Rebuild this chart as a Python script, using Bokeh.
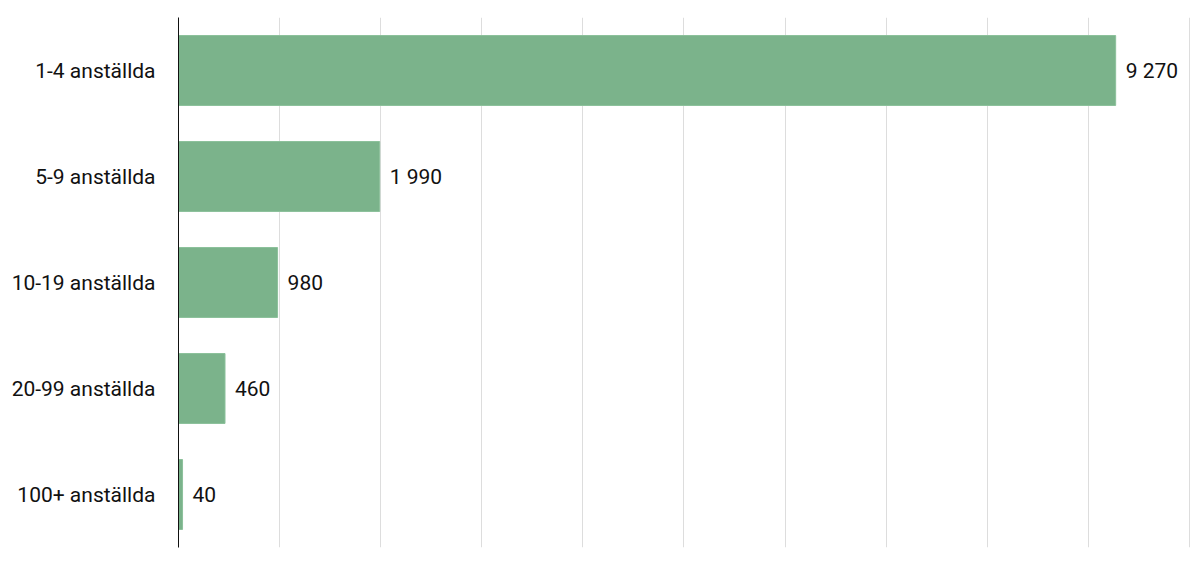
from bokeh.plotting import figure
from bokeh.models import ColumnDataSource, FixedTicker, Range1d
from bokeh.core.properties import value
from bokeh.embed import file_html
from bokeh.resources import INLINE

categories = ["1-4 anställda", "5-9 anställda", "10-19 anställda", "20-99 anställda", "100+ anställda"]
values = [9270, 1990, 980, 460, 40]
value_labels = ["9 270", "1 990", "980", "460", "40"]
grid_ticks = [0, 1000, 2000, 3000, 4000, 5000, 6000, 7000, 8000, 9000, 10000]

src = ColumnDataSource(dict(cat=categories, val=values, lab=value_labels))

p = figure(width=1194, height=567, y_range=list(reversed(categories)),
           x_range=Range1d(0, 10030), output_backend="svg", toolbar_location=None,
           min_border_left=178, min_border_right=2, min_border_top=17, min_border_bottom=20)
p.outline_line_color = None

p.hbar(y="cat", right="val", left=0, height=0.66, source=src,
       fill_color="#7bb38b", line_color="#8cc19b", line_width=1)
p.text(x="val", y="cat", text="lab", source=src, x_offset=10,
       text_baseline="middle", text_align="left",
       text_font=value("Roboto"), text_font_size="21px", text_color="#111111")

p.xaxis.visible = False
p.xaxis.ticker = FixedTicker(ticks=grid_ticks)
p.xgrid.ticker = FixedTicker(ticks=grid_ticks)
p.xgrid.grid_line_color = "#dddddd"
p.xgrid.grid_line_width = 1
p.ygrid.grid_line_color = None

p.yaxis.axis_line_color = "#111111"
p.yaxis.axis_line_width = 1
p.yaxis.major_tick_line_color = None
p.yaxis.minor_tick_line_color = None
p.yaxis.major_label_standoff = 17
p.yaxis.major_label_text_font = "Roboto"
p.yaxis.major_label_text_font_size = "21px"
p.yaxis.major_label_text_color = "#111111"

open("out.html", "w").write(file_html(p, INLINE))
